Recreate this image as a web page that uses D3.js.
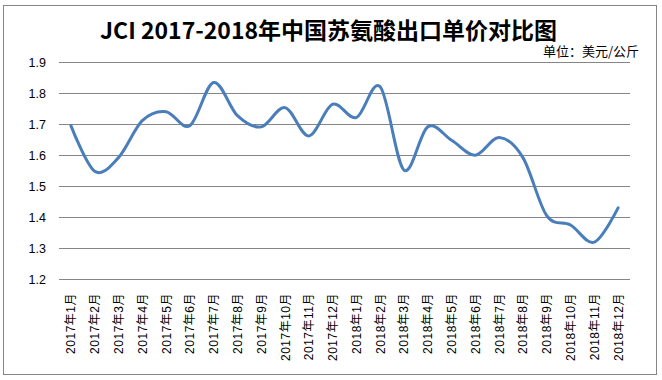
<!DOCTYPE html>
<html><head><meta charset="utf-8">
<script src="https://cdn.jsdelivr.net/npm/d3@7"></script>
<style>
html,body{margin:0;padding:0;background:#fff;}
svg{display:block;}
</style>
</head><body>
<svg id="c" width="662" height="380"></svg>
<script>
const categories = ["2017年1月","2017年2月","2017年3月","2017年4月","2017年5月","2017年6月","2017年7月","2017年8月","2017年9月","2017年10月","2017年11月","2017年12月",
  "2018年1月","2018年2月","2018年3月","2018年4月","2018年5月","2018年6月","2018年7月","2018年8月","2018年9月","2018年10月","2018年11月","2018年12月"];
const prices = [1.695,1.548,1.592,1.711,1.740,1.695,1.834,1.727,1.691,1.753,1.662,1.764,
  1.721,1.820,1.552,1.691,1.648,1.600,1.657,1.592,1.405,1.375,1.320,1.430];
const yTicks = [1.2,1.3,1.4,1.5,1.6,1.7,1.8,1.9];
const titleText = "JCI 2017-2018年中国苏氨酸出口单价对比图";
const unitText = "单位：美元/公斤";

const svg = d3.select("#c");
const font = "'Liberation Sans','Noto Sans CJK SC',sans-serif";

// frame
svg.append("rect").attr("x",3.5).attr("y",5.5).attr("width",653).attr("height",369)
  .attr("fill","#fff").attr("stroke","#868686").attr("stroke-width",1);

const x = d3.scaleBand().domain(categories).range([59,630]);
const y = d3.scaleLinear().domain([1.2,1.9]).range([279.3,62]);

// gridlines
svg.append("g").selectAll("line").data(yTicks).join("line")
  .attr("x1",59).attr("x2",630)
  .attr("y1",d=>Math.round(y(d))+0.5).attr("y2",d=>Math.round(y(d))+0.5)
  .attr("stroke","#868686").attr("stroke-width",1);

// y axis labels
const yAxis = d3.axisLeft(y).tickValues(yTicks).tickFormat(d3.format(".1f")).tickSize(0).tickPadding(13);
const ya = svg.append("g").attr("transform","translate(59,0)").call(yAxis);
ya.select(".domain").remove();
ya.selectAll("text").attr("font-family",font).attr("font-size",12.5).attr("fill","#000");

// x axis labels
const xAxis = d3.axisBottom(x).tickSize(0).tickPadding(0);
const xa = svg.append("g").attr("transform","translate(0,279)").call(xAxis);
xa.select(".domain").remove();
xa.selectAll("text")
  .attr("font-family",font).attr("font-size",12).attr("fill","#000")
  .attr("letter-spacing","0.5px")
  .attr("text-anchor","end").attr("dy",null).attr("y",0)
  .attr("transform","translate(4.5,14) rotate(-90)");

// line
const line = d3.line()
  .x((d,i)=>x(categories[i]) + x.bandwidth()/2)
  .y(d=>y(d))
  .curve(d3.curveCatmullRom.alpha(0));
svg.append("path").datum(prices).attr("d",line)
  .attr("fill","none").attr("stroke","#4a7ebb").attr("stroke-width",3)
  .attr("stroke-linejoin","round").attr("stroke-linecap","round");

// title
svg.append("text").attr("x",100).attr("y",39)
  .attr("font-family","'Noto Sans CJK SC',sans-serif").attr("font-weight","bold")
  .attr("font-size",23).attr("fill","#000")
  .attr("textLength",457).attr("lengthAdjust","spacingAndGlyphs")
  .text(titleText);

// unit
svg.append("text").attr("x",639).attr("y",56).attr("text-anchor","end")
  .attr("font-family","'Noto Sans CJK SC',sans-serif").attr("font-size",13).attr("fill","#000")
  .text(unitText);
</script>
</body></html>
